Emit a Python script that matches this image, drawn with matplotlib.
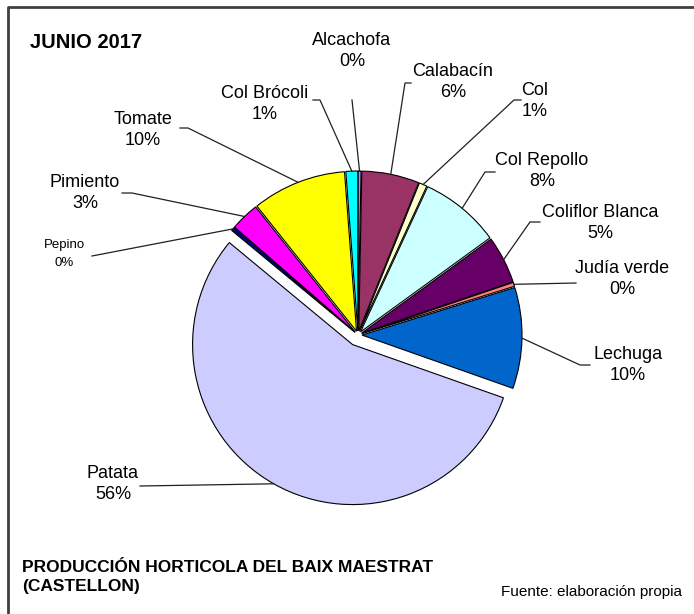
#!/usr/bin/env python3
"""Exploded pie: produccion horticola del Baix Maestrat, junio 2017."""

import numpy as np
import matplotlib
matplotlib.use("Agg")
import matplotlib.pyplot as plt

plt.rcParams["font.family"] = ["Liberation Sans", "DejaVu Sans"]

W, H = 694, 614

crops = ["Alcachofa", "Calabacín", "Col", "Col Repollo", "Coliflor Blanca",
         "Judía verde", "Lechuga", "Patata", "Pepino", "Pimiento", "Tomate",
         "Col Brócoli"]
shares = [0.3, 5.8, 0.8, 8.1, 4.8, 0.4, 10.2, 55.6, 0.4, 2.9, 9.5, 1.2]
colors = ["#9999FF", "#993366", "#FFFFCC", "#CCFFFF", "#660066", "#FF8080",
          "#0066CC", "#CCCCFF", "#000080", "#FF00FF", "#FFFF00", "#00FFFF"]

# label layout in pixel coords (top-left origin):
# text centre, leader elbow, leader end (None = straight line to end)
label_xy = [(352, 51), (453, 82), (535, 101), (542, 171), (600, 223),
            (622, 279), (628, 365), (113, 484), (64, 254), (85, 193),
            (143, 130), (265, 104)]
elbows = [None, (405, 83), (514, 100), (485, 172), (530, 222),
          None, (580, 365), None, None, (132, 193), (188, 128), (320, 100)]
ends = [(352, 100), (411, 83), (521, 100), (495, 172), (540, 222),
        (576, 283), (590, 365), (140, 486), (92, 256), (122, 193),
        (180, 128), (313, 100)]
small = {"Pepino"}


def Y(y):
    return H - y


fig = plt.figure(figsize=(W / 100, H / 100), dpi=100)
ax = fig.add_axes([0, 0, 1, 1])

# explode offsets are absolute (pixels here)
explode = [11 if c == "Patata" else 4 for c in crops]
wedges, _ = ax.pie(shares, colors=colors, explode=explode, startangle=90,
                   counterclock=False, radius=160, center=(358, Y(335)),
                   wedgeprops=dict(edgecolor="black", linewidth=0.8))
ax.set_xlim(0, W)
ax.set_ylim(0, H)
ax.axis("off")

total = sum(shares)
for w, name, val, (tx, ty), elb, end in zip(wedges, crops, shares, label_xy,
                                            elbows, ends):
    th = np.deg2rad((w.theta1 + w.theta2) / 2)
    cx, cy = w.center
    p0 = (cx + w.r * np.cos(th), cy + w.r * np.sin(th))
    pts = [p0]
    if elb is not None:
        pts.append((elb[0], Y(elb[1])))
    pts.append((end[0], Y(end[1])))
    xs, ys = zip(*pts)
    ax.plot(xs, ys, color="#202020", linewidth=0.9)
    pct = f"{round(val / total * 100):d}%"
    is_small = name in small
    ax.text(tx, Y(ty), f"{name}\n{pct}", ha="center", va="center",
            fontsize=9.5 if is_small else 13,
            linespacing=1.75 if is_small else 1.33, color="black")

# frame (only top/left visible in the crop)
ax.plot([8, 8, W + 5], [Y(H + 5), Y(7), Y(7)], color="#404040",
        linewidth=2, clip_on=False)

fig.text(30 / W, 1 - 43 / H, "JUNIO 2017", fontsize=14.5, fontweight="bold",
         va="center", ha="left")
fig.text(22 / W, 1 - 577 / H, "PRODUCCIÓN HORTICOLA DEL BAIX MAESTRAT\n(CASTELLON)",
         fontsize=12.5, fontweight="bold", va="center", ha="left",
         linespacing=1.25)
fig.text(682 / W, 1 - 592 / H, "Fuente: elaboración propia", fontsize=11,
         va="center", ha="right")

fig.savefig("out.png", dpi=100)
